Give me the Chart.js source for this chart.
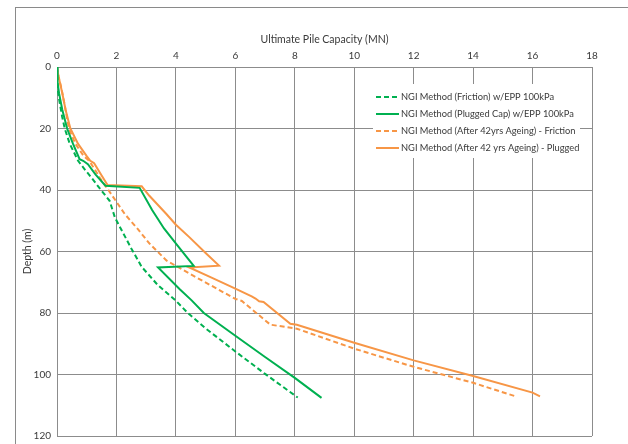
<!DOCTYPE html>
<html>
<head>
<meta charset="utf-8">
<script src="https://cdn.jsdelivr.net/npm/chart.js@4/dist/chart.umd.min.js"></script>
<style>
  html, body { margin: 0; padding: 0; background: #fff; }
  #wrap { position: relative; width: 628px; height: 444px; overflow: hidden; }
  #frame { position: absolute; left: 15px; top: 7px; width: 620px; height: 450px;
           border-left: 1px solid #8a8a8a; border-top: 1px solid #8a8a8a; }
  canvas { position: absolute; left: 0; top: 0; }
</style>
</head>
<body>
<div id="wrap">
  <div id="frame"></div>
  <canvas id="pileChart" width="628" height="444"></canvas>
</div>
<script>
// series data: capacity (MN) vs depth (m)
const frictionEppCap   = [0, 0.02, 0.08, 0.17, 0.26, 0.43, 0.71, 0.95, 1.16, 1.48, 1.77, 1.95, 2.5, 2.85, 3.4, 4.0, 4.4, 5.0, 6.0, 7.0, 8.1];
const frictionEppDepth = [0, 7, 11, 16, 20, 25, 30.5, 33.5, 36, 40, 43.5, 49, 59, 65, 71, 76, 80, 85, 92.5, 99.8, 107.5];

const pluggedEppCap   = [0, 0.02, 0.07, 0.18, 0.34, 0.54, 0.76, 0.88, 1.04, 1.3, 1.63, 2.78, 3.2, 3.6, 4.05, 4.6, 3.4, 4.13, 4.53, 4.94, 6.0, 7.0, 8.0, 8.9];
const pluggedEppDepth = [0, 5, 8.6, 14, 20, 25, 30, 30.5, 31.6, 35, 38.6, 39.3, 46.5, 52.5, 58, 64.7, 65.2, 72.3, 75.9, 80, 87.4, 94.3, 101.1, 107.6];

const frictionAgedCap   = [0, 0.05, 0.15, 0.27, 0.4, 0.62, 0.9, 1.08, 1.25, 1.44, 1.62, 1.8, 2.28, 2.7, 3.12, 3.68, 4.46, 5.36, 6.0, 6.22, 7.18, 8.07, 10, 12, 14, 15.46];
const frictionAgedDepth = [0, 3, 7, 13, 20, 25, 29, 30.5, 33, 36, 38.5, 41, 47.8, 52.5, 57.5, 62.9, 67.2, 72, 75.4, 76.1, 83.8, 85.1, 91.6, 97.5, 102.7, 107.2];

const pluggedAgedCap   = [0, 0.05, 0.18, 0.29, 0.45, 0.71, 1.0, 1.12, 1.25, 1.45, 1.7, 2.85, 3.1, 3.68, 4.0, 4.46, 5.0, 5.45, 4.45, 5.2, 6.0, 6.55, 6.68, 6.8, 6.95, 7.85, 8.07, 10, 12, 14, 16, 16.25];
const pluggedAgedDepth = [0, 3, 8.6, 14, 20, 25, 29, 30.5, 31.3, 34.5, 38.4, 38.8, 41.8, 47.8, 51.3, 55.4, 60.5, 64.6, 65.2, 68.5, 72.1, 74.6, 75.3, 76.2, 76.4, 83.5, 83.8, 89.7, 95.4, 100.5, 105.9, 107.1];

const seriesLabels = [
    "NGI Method (Friction) w/EPP 100kPa",
    "NGI Method (Plugged Cap) w/EPP 100kPa",
    "NGI Method (After 42yrs Ageing) - Friction",
    "NGI Method (After 42 yrs Ageing) - Plugged"
];

const GREEN = "#00b050";
const ORANGE = "#f79646";
const GRID = "#8c8c8c";
const TEXT = "#3a3a3a";
const FONT = "Lato, sans-serif";

function zip(xs, ys) {
    return xs.map((x, i) => ({ x: x, y: ys[i] }));
}

function line(label, xs, ys, color, dash) {
    return {
        label: label,
        data: zip(xs, ys),
        showLine: true,
        borderColor: color,
        backgroundColor: color,
        borderWidth: 2,
        borderDash: dash,
        pointRadius: 0,
        tension: 0,
        fill: false
    };
}

// legend box drawn inside the plot, top right
const boxLegend = {
    id: "boxLegend",
    afterDatasetsDraw(chart) {
        const ctx = chart.ctx;
        const area = chart.chartArea;
        const left = area.right - 219;
        const top = area.top + 17;
        ctx.save();
        ctx.fillStyle = "#fff";
        ctx.fillRect(left, top, 207, 74);
        ctx.font = "9.3px " + FONT;
        ctx.textBaseline = "middle";
        ctx.fillStyle = TEXT;
        chart.data.datasets.forEach((ds, i) => {
            const y = top + 13 + i * 17;
            ctx.beginPath();
            ctx.strokeStyle = ds.borderColor;
            ctx.lineWidth = 2;
            ctx.setLineDash(ds.borderDash || []);
            ctx.moveTo(left + 3, y);
            ctx.lineTo(left + 26, y);
            ctx.stroke();
            ctx.setLineDash([]);
            ctx.fillText(ds.label, left + 28, y);
        });
        ctx.restore();
    }
};

new Chart(document.getElementById("pileChart"), {
    type: "scatter",
    data: {
        datasets: [
            line(seriesLabels[0], frictionEppCap, frictionEppDepth, GREEN, [5, 3]),
            line(seriesLabels[1], pluggedEppCap, pluggedEppDepth, GREEN, []),
            line(seriesLabels[2], frictionAgedCap, frictionAgedDepth, ORANGE, [5, 3]),
            line(seriesLabels[3], pluggedAgedCap, pluggedAgedDepth, ORANGE, [])
        ]
    },
    options: {
        responsive: false,
        animation: false,
        layout: { padding: { left: 0, right: 36, top: 0, bottom: 8 } },
        plugins: { legend: { display: false }, tooltip: { enabled: false } },
        scales: {
            x: {
                type: "linear",
                position: "top",
                min: 0,
                max: 18,
                ticks: { stepSize: 2, padding: 5, color: TEXT, font: { family: FONT, size: 10 } },
                grid: { color: GRID, drawTicks: false },
                border: { color: GRID },
                title: {
                    display: true,
                    text: "Ultimate Pile Capacity (MN)",
                    color: TEXT,
                    font: { family: FONT, size: 10.5 },
                    padding: { top: 33, bottom: 0 }
                },
                afterFit: s => { s.height = 67; }
            },
            y: {
                type: "linear",
                reverse: true,
                min: 0,
                max: 120,
                ticks: { stepSize: 20, padding: 6, color: TEXT, font: { family: FONT, size: 10 } },
                grid: { color: GRID, drawTicks: false },
                border: { color: GRID },
                title: {
                    display: true,
                    text: "Depth (m)",
                    color: TEXT,
                    font: { family: FONT, size: 10.5 },
                    padding: { top: 21, bottom: 0 }
                },
                afterFit: s => {
                    s.width = 57;
                    s.paddingTop = 0;
                    s.paddingBottom = 0;
                }
            }
        }
    },
    plugins: [boxLegend]
});
</script>
</body>
</html>
